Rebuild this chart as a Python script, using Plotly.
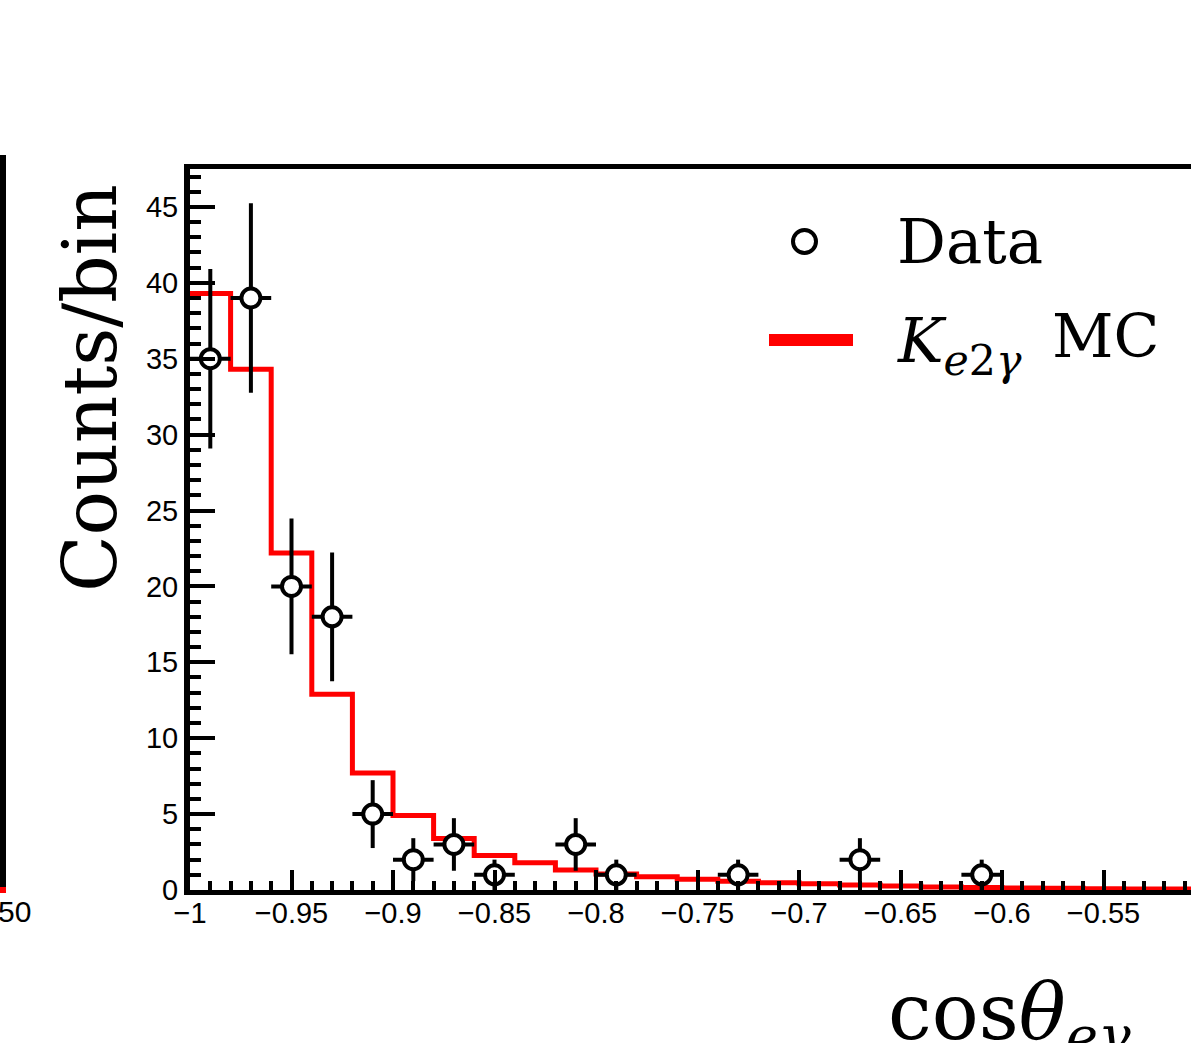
import plotly.graph_objects as go

# ---------------- data ----------------
bin_edges_lo = [-1.00, -0.98, -0.96, -0.94, -0.92, -0.90, -0.88, -0.86, -0.84, -0.82,
                -0.80, -0.78, -0.76, -0.74, -0.72, -0.70, -0.68, -0.66, -0.64, -0.62,
                -0.60, -0.58, -0.56, -0.54, -0.52]
bin_width = 0.02
mc_values = [39.3, 34.3, 22.2, 12.9, 7.7, 4.9, 3.4, 2.28, 1.8, 1.32,
             1.05, 0.88, 0.70, 0.57, 0.48, 0.41, 0.33, 0.26, 0.20, 0.16,
             0.13, 0.11, 0.09, 0.07, 0.06]

data_x = [-0.99, -0.97, -0.95, -0.93, -0.91, -0.89, -0.87, -0.85, -0.81, -0.79, -0.73, -0.67, -0.61]
data_y = [35, 39, 20, 18, 5, 2, 3, 1, 3, 1, 1, 2, 1]

x_tick_vals = [-1.0, -0.95, -0.9, -0.85, -0.8, -0.75, -0.7, -0.65, -0.6, -0.55, -0.5]
x_tick_text = ["\u22121", "\u22120.95", "\u22120.9", "\u22120.85", "\u22120.8", "\u22120.75",
               "\u22120.7", "\u22120.65", "\u22120.6", "\u22120.55", "\u22120.5"]
y_tick_vals = [0, 5, 10, 15, 20, 25, 30, 35, 40, 45]

# ---------------- geometry (pixels) ----------------
W, H = 1191, 1043
L, R, T, B = 190, 0, 169, 153
PW, PH = W - L - R, H - T - B

def px(xp):
    return (xp - L) / PW

def py(yp):
    return (H - B - yp) / PH

SERIF = "DejaVu Serif"
SANS = "Liberation Sans"

fig = go.Figure()

# MC step histogram
step_x = bin_edges_lo + [bin_edges_lo[-1] + bin_width]
step_y = mc_values + [mc_values[-1]]
fig.add_trace(go.Scatter(
    x=step_x, y=step_y, mode="lines", line=dict(color="#ff0000", width=5, shape="hv"),
    showlegend=False, hoverinfo="skip"))

# Data points with Poisson errors
err_y = [v ** 0.5 for v in data_y]
fig.add_trace(go.Scatter(
    x=data_x, y=data_y, mode="markers",
    marker=dict(symbol="circle", size=19, color="white", line=dict(color="black", width=4)),
    error_y=dict(type="data", array=err_y, visible=True, color="black", thickness=4, width=0),
    error_x=dict(type="constant", value=bin_width / 2, visible=True, color="black", thickness=4, width=0),
    showlegend=False))

fig.update_layout(
    width=W, height=H,
    margin=dict(l=L, r=R, t=T, b=B, pad=0),
    paper_bgcolor="white", plot_bgcolor="white",
    showlegend=False,
    xaxis=dict(
        range=[-1.0, -1.0 + PW / 2030.0],
        tickmode="array", tickvals=x_tick_vals, ticktext=x_tick_text,
        ticks="inside", ticklen=20, tickwidth=4, tickcolor="black",
        minor=dict(dtick=0.01, tick0=-1.0, ticks="inside", ticklen=9, tickwidth=4, tickcolor="black"),
        showline=True, linewidth=5, linecolor="black", mirror=True,
        showgrid=False, zeroline=False,
        ticklabelstandoff=-7,
        tickfont=dict(family=SANS, size=29, color="black"),
    ),
    yaxis=dict(
        range=[0, 47.5],
        tickmode="array", tickvals=y_tick_vals,
        ticks="inside", ticklen=25, tickwidth=4, tickcolor="black",
        minor=dict(dtick=1, tick0=0, ticks="inside", ticklen=11, tickwidth=4, tickcolor="black"),
        showline=True, linewidth=6, linecolor="black", mirror=False,
        showgrid=False, zeroline=False,
        tickfont=dict(family=SANS, size=29, color="black"),
    ),
)

shapes = []
# remnant of neighbouring panel at the left
shapes.append(dict(type="line", xref="paper", yref="paper", x0=px(3), x1=px(3), y0=py(155), y1=py(888),
                   line=dict(color="black", width=6)))
shapes.append(dict(type="line", xref="paper", yref="paper", x0=px(3), x1=px(3), y0=py(887), y1=py(893),
                   line=dict(color="#ff0000", width=6)))
# legend symbols
shapes.append(dict(type="circle", xref="paper", yref="paper",
                   x0=px(793), x1=px(816), y0=py(230), y1=py(253),
                   line=dict(color="black", width=4), fillcolor="white"))
shapes.append(dict(type="line", xref="paper", yref="paper", x0=px(769), x1=px(853), y0=py(340), y1=py(340),
                   line=dict(color="#ff0000", width=12)))
fig.update_layout(shapes=shapes)

annotations = [
    dict(text="50", xref="paper", yref="paper", x=px(-4), y=py(893), xanchor="left", yanchor="top",
         showarrow=False, font=dict(family=SANS, size=30, color="black")),
    dict(text="Counts/bin", xref="paper", yref="paper", x=px(90), y=py(388), xanchor="center", yanchor="middle",
         textangle=-90, showarrow=False, font=dict(family=SERIF, size=74, color="black")),
    dict(text="Data", xref="paper", yref="paper", x=px(895), y=py(242), xanchor="left", yanchor="middle",
         showarrow=False, font=dict(family=SERIF, size=61, color="black")),
    dict(text="<i>K</i><sub><i>e</i>2<i>\u03b3</i></sub>", xref="paper", yref="paper", x=px(895), y=py(345),
         xanchor="left", yanchor="middle",
         showarrow=False, font=dict(family=SERIF, size=61, color="black")),
    dict(text="MC", xref="paper", yref="paper", x=px(1050), y=py(336),
         xanchor="left", yanchor="middle",
         showarrow=False, font=dict(family=SERIF, size=60, color="black")),
    dict(text="cos<i>\u03b8</i><sub><i>e\u03b3</i></sub>", xref="paper", yref="paper", x=px(886), y=py(965),
         xanchor="left", yanchor="top",
         showarrow=False, font=dict(family=SERIF, size=78, color="black")),
]
fig.update_layout(annotations=annotations)

fig.write_html("out.html")
